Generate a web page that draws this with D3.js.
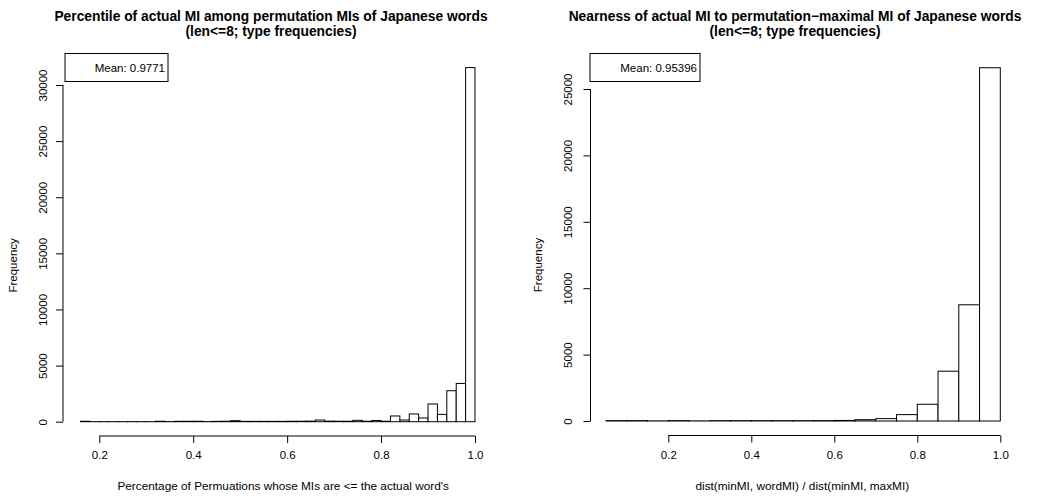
<!DOCTYPE html>
<html>
<head>
<meta charset="utf-8">
<script src="https://cdn.jsdelivr.net/npm/d3@7"></script>
<style>
  body { margin: 0; background: #fff; }
  text { font-family: "Liberation Sans", Arial, Helvetica, sans-serif; fill: #000; }
</style>
</head>
<body>
<div id="chart"></div>
<script>
// histogram data
const leftBreaks = [0.16,0.18,0.20,0.22,0.24,0.26,0.28,0.30,0.32,0.34,0.36,0.38,0.40,0.42,0.44,0.46,0.48,0.50,0.52,0.54,0.56,
    0.58,0.60,0.62,0.64,0.66,0.68,0.70,0.72,0.74,0.76,0.78,0.80,0.82,0.84,0.86,0.88,0.90,0.92,0.94,0.96,0.98,1.00];
const leftCounts = [40,5,5,5,5,5,5,5,40,10,35,35,40,10,30,40,90,30,30,30,
    30,30,40,40,50,150,50,40,40,120,40,110,40,510,150,690,330,1580,650,2760,3410,31550];

const rightBreaks = [0.05,0.10,0.15,0.20,0.25,0.30,0.35,0.40,0.45,0.50,0.55,0.60,0.65,0.70,0.75,0.80,0.85,0.90,0.95,1.00];
const rightCounts = [30,30,10,30,10,25,25,25,25,25,30,40,100,180,480,1260,3750,8750,26600];

const xTicks = [0.2,0.4,0.6,0.8,1.0];
const leftYTicks = [0,5000,10000,15000,20000,25000,30000];
const rightYTicks = [0,5000,10000,15000,20000,25000];

const leftTitle = ["Percentile of actual MI among permutation MIs of Japanese words","(len<=8; type frequencies)"];
const rightTitle = ["Nearness of actual MI to permutation\u2212maximal MI of Japanese words","(len<=8; type frequencies)"];
const leftXLab = "Percentage of Permuations whose MIs are <= the actual word's";
const rightXLab = "dist(minMI, wordMI) / dist(minMI, maxMI)";
const leftMean = "Mean: 0.9771";
const rightMean = "Mean: 0.95396";

const W = 1043, H = 498;

const svg = d3.select("#chart").append("svg")
    .attr("width", W)
    .attr("height", H);

const drawHist = (cfg) => {
    const g = svg.append("g");

    const x = d3.scaleLinear().domain([0.2, 1.0]).range(cfg.xRange);
    const y = d3.scaleLinear().domain([0, cfg.yTicks[cfg.yTicks.length - 1]]).range(cfg.yRange);

    const bins = cfg.counts.map((c, i) => ({x0: cfg.breaks[i], x1: cfg.breaks[i + 1], n: c}));

    //bars
    g.append("g")
        .selectAll("rect")
        .data(bins)
        .join("rect")
        .attr("x", d => x(d.x0))
        .attr("width", d => x(d.x1) - x(d.x0))
        .attr("y", d => y(d.n))
        .attr("height", d => y(0) - y(d.n))
        .attr("fill", "#fff")
        .attr("stroke", "#000")
        .attr("stroke-width", 1);

    //x axis (drawn under the plot region like R)
    const xAxis = g.append("g").attr("transform", `translate(0,${cfg.xAxisY})`)
        .call(d3.axisBottom(x).tickValues(xTicks).tickFormat(d3.format(".1f")).tickSizeOuter(0).tickSize(7).tickPadding(8));
    xAxis.select(".domain").attr("stroke", "#000").attr("d", `M${x(xTicks[0])},0H${x(xTicks[xTicks.length - 1])}`);
    xAxis.selectAll("text").attr("font-size", "11.5px").attr("font-family", null);

    //y axis
    const yAxis = g.append("g").attr("transform", `translate(${cfg.yAxisX},0)`)
        .call(d3.axisLeft(y).tickValues(cfg.yTicks).tickFormat(d3.format("d")).tickSizeOuter(0).tickSize(7));
    yAxis.select(".domain").attr("d", `M0,${y(0)}V${y(cfg.yTicks[cfg.yTicks.length - 1])}`);
    yAxis.selectAll(".tick text")
        .attr("font-size", "11.5px").attr("font-family", null)
        .attr("x", null).attr("dy", null)
        .attr("text-anchor", "middle")
        .attr("transform", `translate(${cfg.yLabX - cfg.yAxisX},0) rotate(-90)`)
        .attr("y", 4);

    //titles
    g.append("text")
        .attr("x", cfg.titleX).attr("y", 21)
        .attr("text-anchor", "middle").attr("font-weight", "bold").attr("font-size", "13.8px")
        .text(cfg.title[0]);
    g.append("text")
        .attr("x", cfg.titleX).attr("y", 36)
        .attr("text-anchor", "middle").attr("font-weight", "bold").attr("font-size", "13.8px")
        .text(cfg.title[1]);

    //axis labels
    g.append("text")
        .attr("x", (x(xTicks[0]) + x(xTicks[4])) / 2 + cfg.xLabShift).attr("y", 490)
        .attr("text-anchor", "middle").attr("font-size", "11.8px")
        .text(cfg.xLab);
    g.append("text")
        .attr("transform", `translate(${cfg.freqX},${(cfg.yRange[0] + 85) / 2 + 12}) rotate(-90)`)
        .attr("text-anchor", "middle").attr("font-size", "11.5px")
        .text("Frequency");

    //mean legend box
    g.append("rect")
        .attr("x", cfg.box[0]).attr("y", 53.5)
        .attr("width", cfg.box[1] - cfg.box[0]).attr("height", 28)
        .attr("fill", "#fff").attr("stroke", "#000");
    g.append("text")
        .attr("x", cfg.box[1] - 3).attr("y", 71.5)
        .attr("text-anchor", "end").attr("font-size", "11.5px")
        .text(cfg.mean);
};

drawHist({
    breaks: leftBreaks, counts: leftCounts, yTicks: leftYTicks,
    xRange: [99.3, 475], yRange: [421.7, 85],
    xAxisY: 436, yAxisX: 63, yLabX: 43, freqX: 17,
    titleX: 271, title: leftTitle, xLab: leftXLab, xLabShift: -4,
    box: [65, 168], mean: leftMean
});

drawHist({
    breaks: rightBreaks, counts: rightCounts, yTicks: rightYTicks,
    xRange: [668.3, 1000.3], yRange: [421, 89],
    xAxisY: 435.5, yAxisX: 590.5, yLabX: 568, freqX: 542,
    titleX: 795, title: rightTitle, xLab: rightXLab, xLabShift: -32,
    box: [590, 700], mean: rightMean
});
</script>
</body>
</html>
